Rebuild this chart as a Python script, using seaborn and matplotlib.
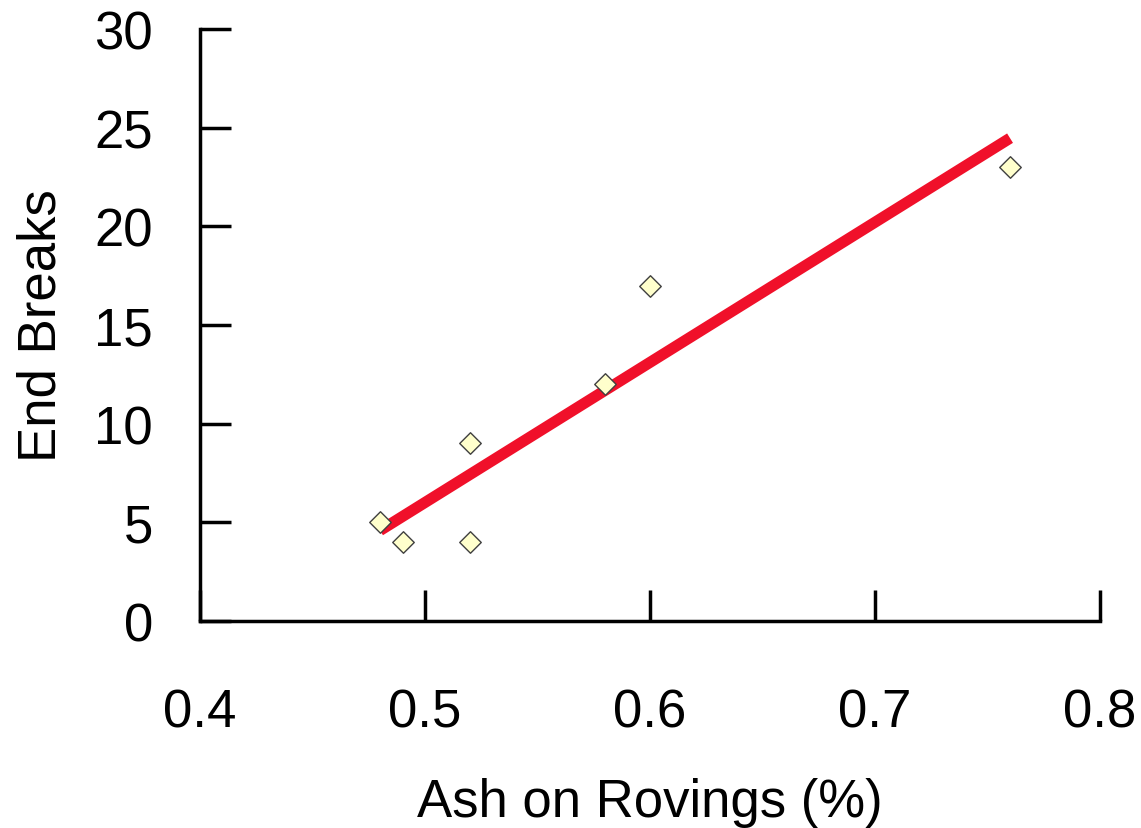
import numpy as np
import pandas as pd
import matplotlib
matplotlib.use("Agg")
import matplotlib.pyplot as plt
import seaborn as sns

# Datos
ceniza = [0.48, 0.49, 0.52, 0.52, 0.58, 0.60, 0.76]
roturas = [5, 4, 4, 9, 12, 17, 23]
xticks = [0.4, 0.5, 0.6, 0.7, 0.8]
yticks = [0, 5, 10, 15, 20, 25, 30]

df = pd.DataFrame({"Ash on Rovings (%)": ceniza, "End Breaks": roturas})

sns.set_style("white")
plt.rcParams["font.family"] = ["Liberation Sans", "DejaVu Sans"]
plt.rcParams["text.color"] = "black"
plt.rcParams["axes.labelcolor"] = "black"

fig = plt.figure(figsize=(11.41, 8.29), dpi=100)
ax = fig.add_axes([0.1753, 0.2497, 0.7888, 0.7141])

# linea de regresion
sns.regplot(x="Ash on Rovings (%)", y="End Breaks", data=df, ci=None, truncate=True,
            scatter=False, ax=ax, line_kws={"color": "#f0102a", "linewidth": 8,
                                            "solid_capstyle": "butt", "zorder": 2})

# puntos
sns.scatterplot(x="Ash on Rovings (%)", y="End Breaks", data=df, ax=ax, marker="D",
                s=120, color="#ffffcc", edgecolor="#404040", linewidth=1, zorder=3)

ax.set_xlim(0.4, 0.8)
ax.set_ylim(0, 30)
ax.set_xticks(xticks)
ax.set_yticks(yticks)
ax.set_xticklabels([f"{v:.1f}" for v in xticks])
ax.set_yticklabels([str(v) for v in yticks])

for lado in ["top", "right"]:
    ax.spines[lado].set_visible(False)
for lado in ["left", "bottom"]:
    ax.spines[lado].set_linewidth(2.5)
    ax.spines[lado].set_color("black")

ax.tick_params(axis="both", direction="in", length=22, width=2.5, colors="black",
               labelsize=38, bottom=True, left=True)
ax.tick_params(axis="x", pad=48)
ax.tick_params(axis="y", pad=34)

ax.set_xlabel("Ash on Rovings (%)", fontsize=38, labelpad=28)
ax.set_ylabel("End Breaks", fontsize=38, labelpad=20)

fig.savefig("out.png", dpi=100)
